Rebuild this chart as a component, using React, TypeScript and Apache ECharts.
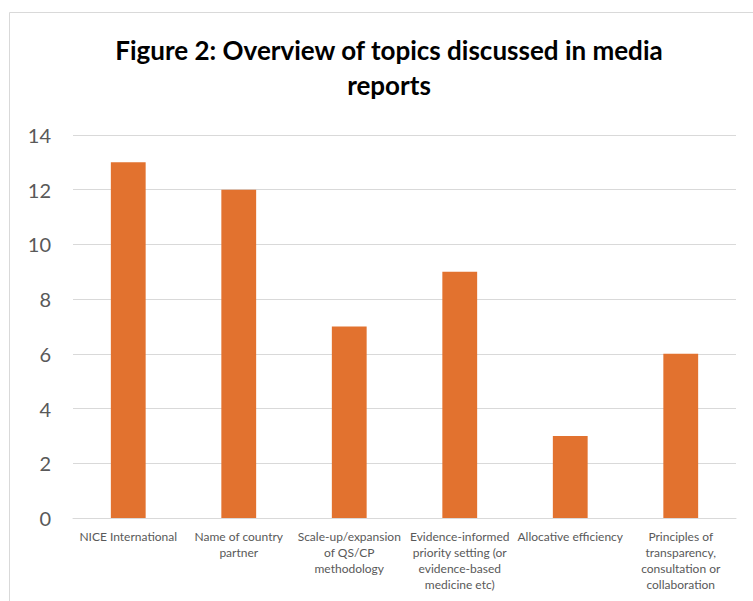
import React, { useEffect, useRef } from "react";
import * as echarts from "echarts";

const titleText = "Figure 2: Overview of topics discussed in media\nreports";
const categories = [
  "NICE International",
  "Name of country\npartner",
  "Scale-up/expansion\nof QS/CP\nmethodology",
  "Evidence-informed\npriority setting (or\nevidence-based\nmedicine etc)",
  "Allocative efficiency",
  "Principles of\ntransparency,\nconsultation or\ncollaboration",
];
const values = [13, 12, 7, 9, 3, 6];
const yTicks = { min: 0, max: 14, interval: 2 };

export default function App() {
  const ref = useRef<HTMLDivElement>(null);
  useEffect(() => {
    document.body.style.margin = "0";
    const chart = echarts.init(ref.current!, null, { renderer: "svg" });
    chart.setOption({
      animation: false,
      backgroundColor: "#ffffff",
      graphic: [
        {
          type: "rect",
          shape: { x: 9.5, y: 12.5, width: 800, height: 700 },
          style: { fill: "none", stroke: "#d9d9d9", lineWidth: 1 },
          silent: true,
        },
        {
          type: "text",
          x: 389,
          y: 32,
          style: {
            text: titleText,
            textAlign: "center",
            textVerticalAlign: "top",
            fontFamily: "Lato",
            fontWeight: "bold",
            fontSize: 26,
            lineHeight: 35,
            fill: "#000000",
          },
        },
      ],
      grid: { left: 73, right: 17, top: 135, bottom: 83, containLabel: false },
      xAxis: {
        type: "category",
        data: categories,
        axisLine: { show: true, lineStyle: { color: "#d9d9d9", width: 1 } },
        axisTick: { show: false },
        axisLabel: {
          interval: 0,
          margin: 10,
          color: "#595959",
          fontFamily: "Lato",
          fontSize: 12,
          lineHeight: 16,
          align: "center",
        },
      },
      yAxis: {
        type: "value",
        min: yTicks.min,
        max: yTicks.max,
        interval: yTicks.interval,
        axisLine: { show: false },
        axisTick: { show: false },
        splitLine: { show: true, lineStyle: { color: "#d9d9d9", width: 1 } },
        axisLabel: {
          margin: 22,
          color: "#595959",
          fontFamily: "Lato",
          fontSize: 20,
        },
      },
      series: [
        {
          type: "bar",
          data: values,
          barWidth: "31.5%",
          itemStyle: { color: "#E2722F" },
        },
      ],
    });
    return () => chart.dispose();
  }, []);
  return <div ref={ref} style={{ width: 753, height: 601 }} />;
}
